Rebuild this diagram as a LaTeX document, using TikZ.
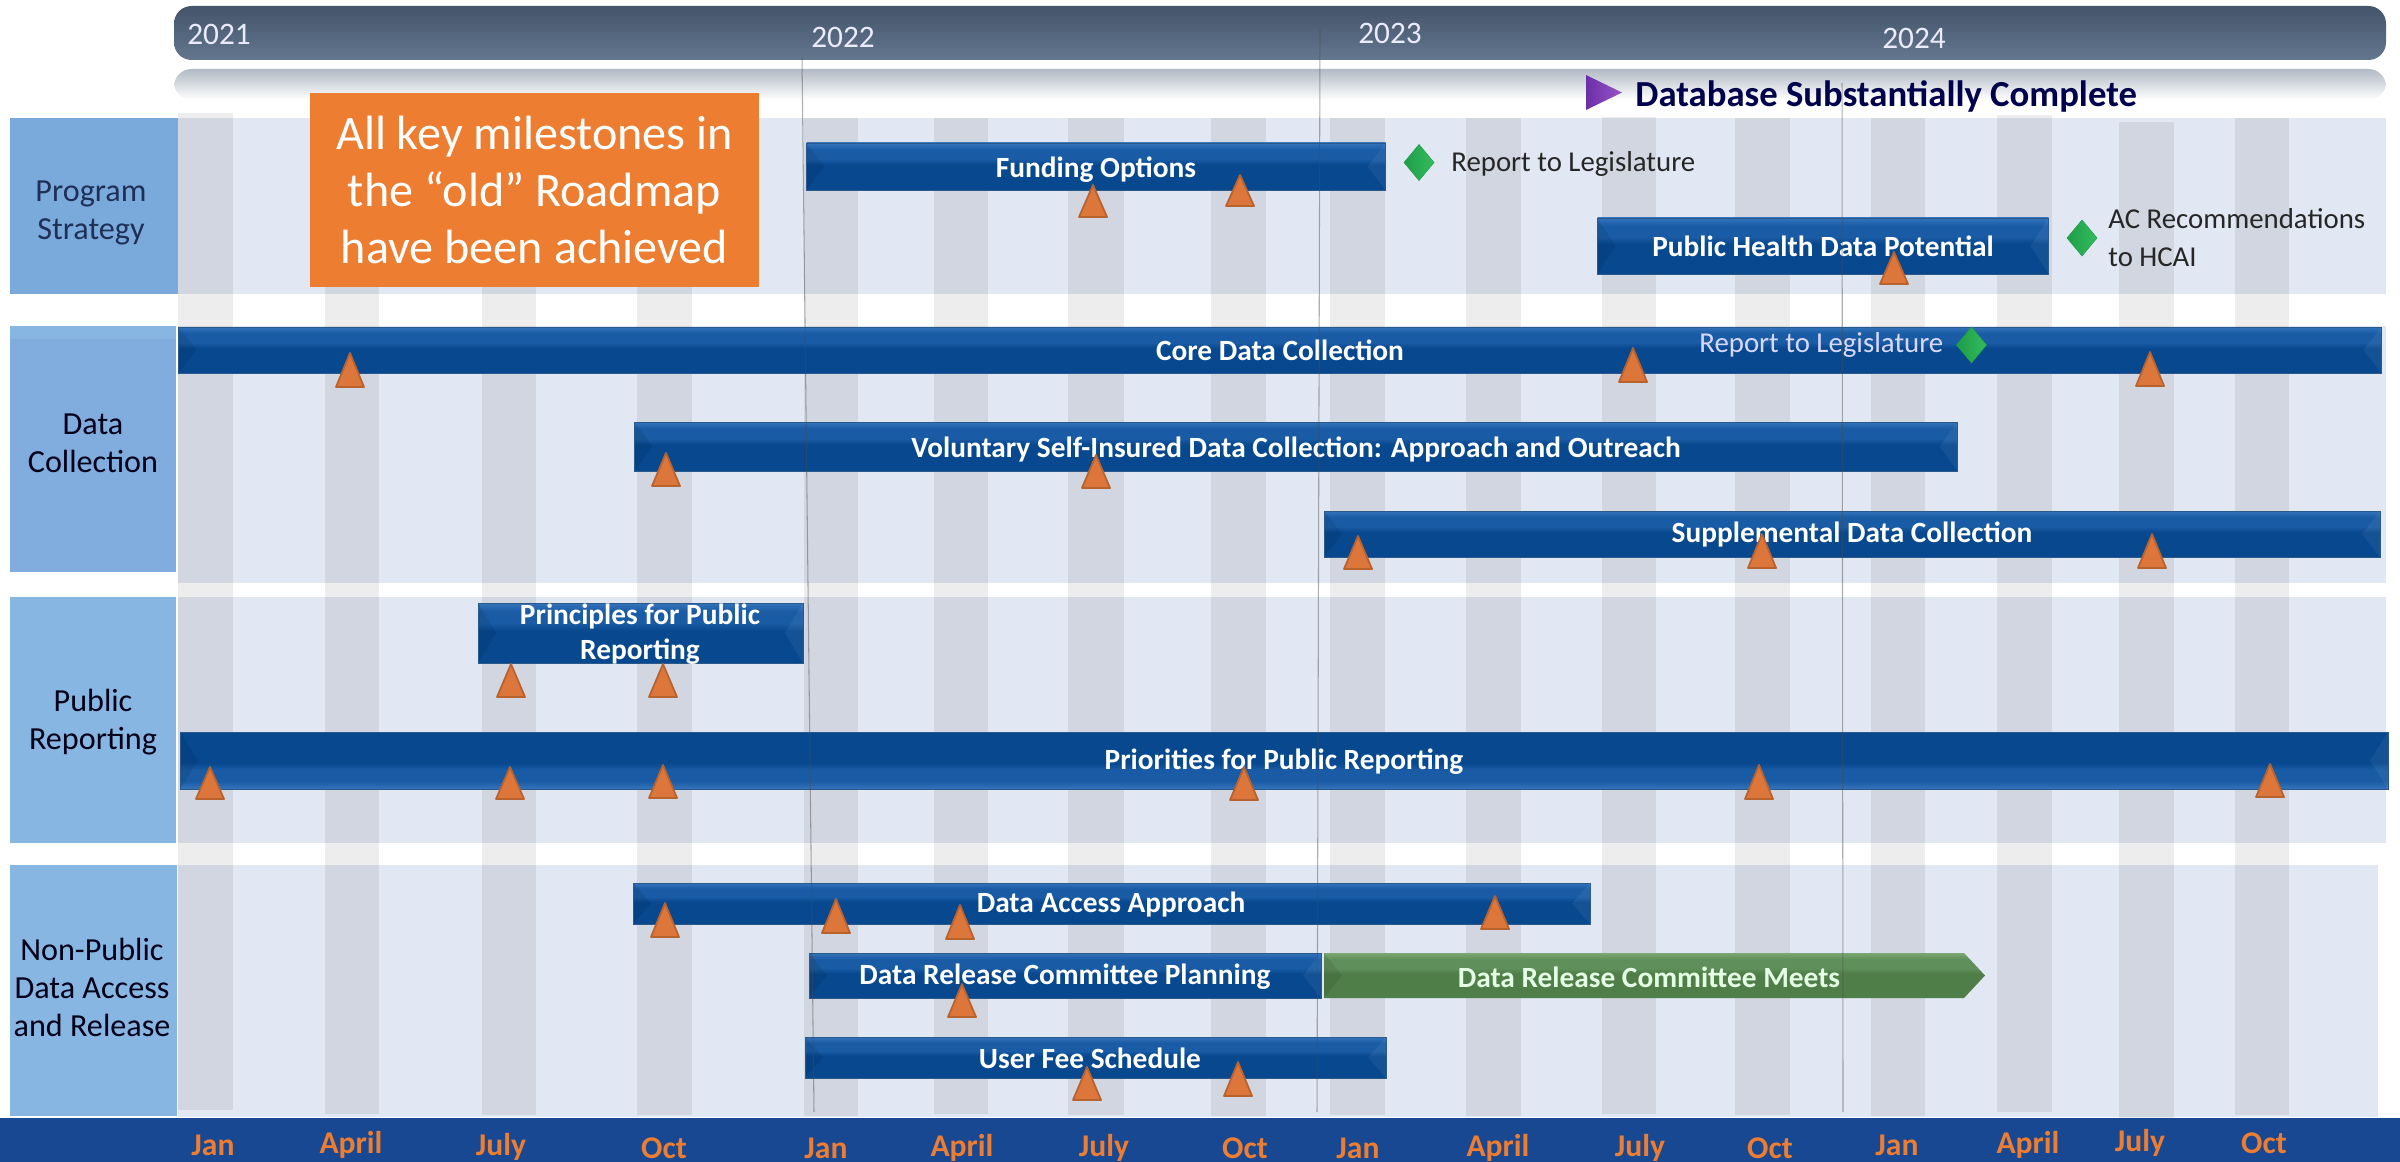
\documentclass[tikz,border=0pt]{standalone}
\usepackage{fontspec}
\setmainfont{Carlito}
\usetikzlibrary{positioning}

\definecolor{barTop}{HTML}{3474BC}
\definecolor{barMid}{HTML}{195BA4}
\definecolor{barLow}{HTML}{07488F}
\definecolor{meetTop}{HTML}{7BA872}
\definecolor{meetMid}{HTML}{5F8F5A}
\definecolor{meetLow}{HTML}{4F7E48}
\definecolor{navyBand}{HTML}{174891}
\definecolor{monthOrange}{HTML}{ED7D31}
\definecolor{laneBack}{HTML}{E1E7F3}
\definecolor{laneA}{HTML}{7AAADC}
\definecolor{laneB}{HTML}{80ADDD}
\definecolor{laneC}{HTML}{88B6E2}
\definecolor{triFill}{HTML}{DC763A}
\definecolor{triEdge}{HTML}{B8622E}
\definecolor{greenA}{HTML}{1D9E48}
\definecolor{greenB}{HTML}{35BC5E}
\definecolor{inkNavy}{HTML}{1F3057}
\definecolor{headTop}{HTML}{44546A}
\definecolor{headLow}{HTML}{63778F}
\definecolor{subTop}{HTML}{B2BAC5}
\definecolor{flagLeft}{HTML}{6A2FA6}
\definecolor{flagRight}{HTML}{9A55C8}

\pgfdeclareverticalshading{barshade}{100bp}{color(0bp)=(barLow); color(25bp)=(barLow); color(52bp)=(barLow); color(58bp)=(barMid); color(68bp)=(barMid); color(75bp)=(barTop); color(100bp)=(barTop)}
\pgfdeclareverticalshading{meetshade}{100bp}{color(0bp)=(meetLow); color(25bp)=(meetLow); color(52bp)=(meetLow); color(58bp)=(meetMid); color(68bp)=(meetMid); color(75bp)=(meetTop); color(100bp)=(meetTop)}

\newcommand{\px}{0.02cm}
\newcommand{\fsz}[1]{\fontsize{#1}{21.6}\selectfont}

\tikzset{
    lanetext/.style={align=center, text=#1, inner sep=0pt, font=\fsz{18.3}},
    yeartext/.style={text=white!92!blue, font=\fsz{17.8}},
    monthtext/.style={text=monthOrange, font=\fsz{18}\bfseries},
    plaintext/.style={text=black!85, font=\fsz{16.4}, align=left, anchor=west, inner sep=0pt},
    bartext/.style={text=white, font=\fsz{16.7}\bfseries},
    bevel/.style={
        path picture={
            \fill[black, opacity=0.08] (path picture bounding box.north west) -- ([xshift=0.36cm]path picture bounding box.west) -- (path picture bounding box.south west) -- cycle;
            \fill[white, opacity=0.06] (path picture bounding box.north east) -- ([xshift=-0.36cm]path picture bounding box.east) -- (path picture bounding box.south east) -- cycle;
        }
    },
    taskbar/.style={
        shading=barshade,
        draw=barLow!70!gray,
        line width=0.5pt,
        bevel,
        text=white,
        inner sep=0pt,
        align=center,
        font=\fsz{16.7}\bfseries
    },
    milestone/.style={fill=triFill, draw=triEdge, line width=1pt, line join=round},
    report/.style={left color=greenA, right color=greenB, draw=greenA, line width=0.3pt},
    yearline/.style={draw=black!70, line width=0.6pt, opacity=0.45},
}

\begin{document}
\begin{tikzpicture}[x=\px, y=-\px]
    \useasboundingbox (0, 0) rectangle (2400, 1162);

    \fill[laneBack] (178, 118) rectangle (2386, 294);
    \fill[laneBack] (178, 326) rectangle (2386, 583);
    \fill[laneBack] (178, 597) rectangle (2386, 843);
    \fill[laneBack] (178, 865) rectangle (2378, 1117);

    \fill[black, opacity=0.07] (178, 113) rectangle (233, 1110);
    \foreach \left/\right/\top/\bottom in {325/379/118/1114, 482/536/118/1115, 637/692/118/1115, 804/858/118/1116, 934/988/118/1114, 1068/1124/118/1115, 1211/1266/118/1116, 1330/1385/118/1115, 1466/1521/118/1116, 1602/1656/117/1114, 1735/1790/118/1115, 1871/1925/118/1116, 1997/2052/115/1112, 2119/2174/122/1118, 2235/2289/118/1115} {
        \fill[black, opacity=0.07] (\left, \top) rectangle (\right, \bottom);
    }

    \fill[navyBand] (0, 1118) rectangle (2400, 1162);

    \fill[laneA] (10, 118) rectangle (178, 294);
    \fill[laneB] (10, 326) rectangle (176, 572);
    \fill[laneC] (10, 326) rectangle (176, 339);
    \fill[laneC] (10, 597) rectangle (176, 843);
    \fill[laneC] (10, 865) rectangle (177, 1116);

    \shade[top color=headTop, bottom color=headLow, rounded corners=10] (174, 6) rectangle (2386, 60);
    \shade[top color=subTop, bottom color=white, rounded corners=10] (174, 69) rectangle (2386, 100);

    \node[yeartext] (yearA) at (219, 34) {2021};
    \node[yeartext] (yearB) at (843, 37) {2022};
    \node[yeartext] (yearC) at (1390, 33) {2023};
    \node[yeartext] (yearD) at (1914, 38) {2024};

    \node[lanetext=inkNavy] (strategy) at (91, 213) {Program\\Strategy};
    \node[lanetext=black!90!blue] (collection) at (93, 443) {Data\\Collection};
    \node[lanetext=black!90!blue] (reporting) at (93, 722) {Public\\Reporting};
    \node[lanetext=black!90!blue] (access) at (92, 987) {Non-Public\\Data Access\\and Release};

    \node[taskbar, minimum width=579*\px, minimum height=47*\px] (funding) at (1096, 166.5) {};
    \node[bartext] (fundingtext) at (1096, 170) {Funding Options};
    \node[taskbar, minimum width=451*\px, minimum height=56*\px] (health) at (1823, 246) {Public Health Data Potential};
    \node[taskbar, minimum width=2203*\px, minimum height=46*\px] (core) at (1280, 350) {Core Data Collection};
    \node[taskbar, minimum width=1323*\px, minimum height=49*\px] (voluntary) at (1296, 446.5) {};
    \node[bartext] (voluntarytext) at (1296, 449) {Voluntary Self-Insured Data Collection: Approach and Outreach};
    \node[taskbar, minimum width=1056*\px, minimum height=46*\px] (supplemental) at (1852, 534) {Supplemental Data Collection};
    \node[taskbar, minimum width=325*\px, minimum height=60*\px] (principles) at (640.5, 633) {};
    \node[bartext] (principlesA) at (640, 617) {Principles for Public};
    \node[bartext] (principlesB) at (640, 652) {Reporting};
    \node[taskbar, shading angle=180, minimum width=2208*\px, minimum height=57*\px] (priorities) at (1284, 760.5) {};
    \node[bartext] (prioritiestext) at (1284, 762) {Priorities for Public Reporting};
    \node[taskbar, minimum width=957*\px, minimum height=41*\px] (dataaccess) at (1111.5, 903.5) {};
    \node[bartext] (dataaccesstext) at (1111, 905) {Data Access Approach};
    \node[taskbar, minimum width=512*\px, minimum height=45*\px] (planning) at (1065, 975.5) {};
    \node[bartext] (planningtext) at (1065, 977) {Data Release Committee Planning};
    \node[taskbar, minimum width=581*\px, minimum height=41*\px] (userfee) at (1095.5, 1057.5) {};
    \node[bartext] (userfeetext) at (1090, 1058) {User Fee Schedule};

    \shade[shading=meetshade] (1324, 953) -- (1964, 953) -- (1985, 975.5) -- (1964, 998) -- (1324, 998) -- cycle;
    \fill[black, opacity=0.08] (1324, 953) -- (1342, 975.5) -- (1324, 998) -- cycle;
    \node[text=white!90!green, font=\fsz{16.7}\bfseries] (meets) at (1649, 977) {Data Release Committee Meets};

    \node[fill=monthOrange, text=white, minimum width=449*\px, minimum height=194*\px, align=center, inner sep=0pt, font=\fontsize{27.4}{32.4}\selectfont] (achieved) at (534.5, 190) {All key milestones in\\the ``old'' Roadmap\\have been achieved};

    \foreach \x/\top/\bottom in {1093/185/217, 1240/175/206, 1894/252/284, 350/353/387, 1633/348/382, 2150/352/386, 666/453/486, 1096/455/488, 1358/536/569, 1762/534/568, 2152/534/568, 511/664/697, 663/664/697, 210/767/799, 510/767/799, 663/765/798, 1244/767/800, 1759/765/799, 2270/764/797, 665/903/937, 836/899/933, 960/905/939, 1495/896/929, 962/984/1017, 1087/1067/1100, 1238/1062/1096} {
        \draw[milestone] (\x-14, \bottom) -- (\x, \top) -- (\x+14, \bottom) -- cycle;
    }

    \foreach \x/\y in {1419/162.5, 2082/238, 1971.5/345} {
        \draw[report] (\x-15, \y) -- (\x, \y-18) -- (\x+15, \y) -- (\x, \y+18) -- cycle;
    }
    \shade[left color=flagLeft, right color=flagRight] (1586, 75) -- (1622, 92.5) -- (1586, 110) -- cycle;

    \node[text=blue!30!black, font=\fontsize{20.9}{25}\selectfont\bfseries, anchor=west, inner sep=0pt] (complete) at (1635, 96) {Database Substantially Complete};
    \node[plaintext] (legislatureA) at (1451, 164) {Report to Legislature};
    \node[plaintext, text=white!85!blue] (legislatureB) at (1699, 345) {Report to Legislature};
    \node[plaintext] (recommend) at (2108, 238) {AC Recommendations\\to HCAI};

    \foreach \x/\y/\month [count=\i] in {213/1145/Jan, 351/1145/April, 501/1147/July, 664/1148/Oct, 826/1148/Jan, 962/1148/April, 1104/1148/July, 1245/1148/Oct, 1358/1148/Jan, 1498/1148/April, 1640/1148/July, 1770/1148/Oct, 1897/1145/Jan, 2028/1145/April, 2140/1143/July, 2264/1143/Oct} {
        \node[monthtext] (month\i) at (\x, \y) {\month};
    }

    \draw[yearline] (802, 58) -- (814, 1112);
    \draw[yearline] (1320, 30) -- (1317, 1112);
    \draw[yearline] (1842, 83) -- (1843, 1112);
\end{tikzpicture}
\end{document}
